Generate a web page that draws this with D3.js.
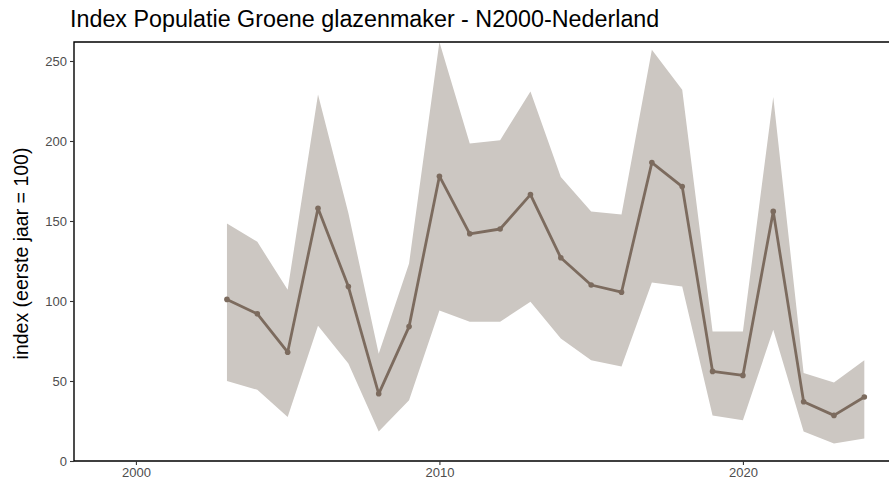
<!DOCTYPE html>
<html>
<head>
<meta charset="utf-8">
<script src="https://cdn.jsdelivr.net/npm/d3@7"></script>
<style>
  html, body { margin: 0; padding: 0; background: #ffffff; }
  svg { display: block; font-family: "Liberation Sans", Arial, sans-serif; }
</style>
</head>
<body>
<div id="chart"></div>
<script>
// jaren en index (eerste jaar = 100)
const years = [2003, 2004, 2005, 2006, 2007, 2008, 2009, 2010, 2011, 2012, 2013,
  2014, 2015, 2016, 2017, 2018, 2019, 2020, 2021, 2022, 2023, 2024];
const indexValues = [101, 92, 68, 158, 109, 42, 84, 178, 142, 145, 166.5,
  127, 110, 105.5, 186.5, 171.5, 56, 53.5, 156, 37, 28.5, 40];
const upperValues = [148.5, 137, 107, 229, 155, 67, 123.5, 262, 198.5, 200.5, 231,
  177.5, 156, 154, 257, 232, 81, 81, 227.5, 55, 49, 63];
const lowerValues = [50, 44.5, 27.5, 84.5, 61, 18.5, 38, 94, 87, 87, 99.5,
  76.5, 63, 59, 111.5, 109, 28.5, 25.5, 82, 18.5, 11, 14];
const xTicks = [2000, 2010, 2020];
const yTicks = [0, 50, 100, 150, 200, 250];

const data = years.map((y, i) => ({
  jaar: y, index: indexValues[i], hoog: upperValues[i], laag: lowerValues[i],
}));

const width = 889;
const height = 490;
const margin = { top: 42, left: 74, bottom: 29 };

const svg = d3.select('#chart')
  .append('svg')
  .attr('width', width)
  .attr('height', height)
  .style('overflow', 'hidden');

// paneel loopt rechts buiten beeld door
const x = d3.scaleLinear()
  .domain([1997.96, 2025.1])
  .range([margin.left, margin.left + (2025.1 - 1997.96) * 30.35]);
const y = d3.scaleLinear()
  .domain([0, 250])
  .range([height - margin.bottom, height - margin.bottom - 400]);

const yTop = margin.top;
const yBottom = height - margin.bottom;

// BAND
const area = d3.area()
  .x((d) => x(d.jaar))
  .y0((d) => y(d.laag))
  .y1((d) => Math.max(y(d.hoog), yTop));

svg.append('path')
  .datum(data)
  .attr('d', area)
  .attr('fill', '#ccc7c2');

// LIJN
const line = d3.line()
  .x((d) => x(d.jaar))
  .y((d) => y(d.index));

svg.append('path')
  .datum(data)
  .attr('d', line)
  .attr('fill', 'none')
  .attr('stroke', '#7c6b5e')
  .attr('stroke-width', 2.8)
  .attr('stroke-linejoin', 'round');

svg.selectAll('circle.punt')
  .data(data)
  .enter()
  .append('circle')
  .attr('class', 'punt')
  .attr('cx', (d) => x(d.jaar))
  .attr('cy', (d) => y(d.index))
  .attr('r', 2.8)
  .attr('fill', '#7c6b5e');

// RAND
const xRight = x.range()[1];
svg.append('path')
  .attr('d', `M${xRight + 5},${yTop} H${margin.left} V${yBottom} H${xRight + 5}`)
  .attr('fill', 'none')
  .attr('stroke', '#000')
  .attr('stroke-width', 1.4);

// EJE Y
const yAxis = d3.axisLeft(y).tickValues(yTicks).tickSize(4).tickPadding(3);
const yAxisGroup = svg.append('g')
  .attr('transform', `translate(${margin.left},0)`)
  .call(yAxis);
yAxisGroup.select('.domain').remove();
yAxisGroup.selectAll('line').attr('stroke', '#333').attr('stroke-width', 1.1);
yAxisGroup.selectAll('text')
  .style('fill', '#4d4d4d')
  .style('font-size', '13px')
  .style('font-family', '"Liberation Sans", Arial, sans-serif');

svg.append('text')
  .attr('transform', `translate(28,${(yTop + yBottom) / 2 + 2}) rotate(-90)`)
  .attr('text-anchor', 'middle')
  .attr('fill', '#000')
  .style('font-size', '19.5px')
  .text('index (eerste jaar = 100)');

// EJE X
const xAxis = d3.axisBottom(x).tickValues(xTicks).tickFormat(d3.format('d')).tickSize(4).tickPadding(3);
const xAxisGroup = svg.append('g')
  .attr('transform', `translate(0,${yBottom})`)
  .call(xAxis);
xAxisGroup.select('.domain').remove();
xAxisGroup.selectAll('line').attr('stroke', '#333').attr('stroke-width', 1.1);
xAxisGroup.selectAll('text')
  .style('fill', '#4d4d4d')
  .style('font-size', '13px')
  .style('font-family', '"Liberation Sans", Arial, sans-serif');

// TITEL
svg.append('text')
  .attr('x', 70)
  .attr('y', 27)
  .attr('fill', '#000')
  .style('font-size', '23.3px')
  .text('Index Populatie Groene glazenmaker - N2000-Nederland');
</script>
</body>
</html>
